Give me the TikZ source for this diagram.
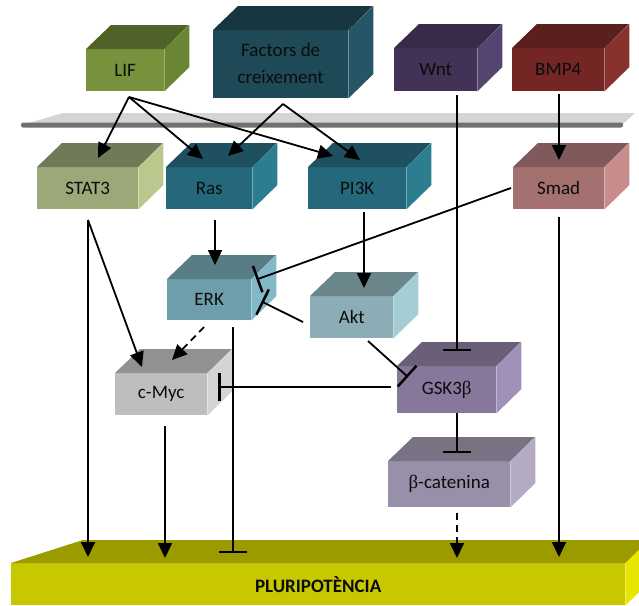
\documentclass[tikz,border=0pt]{standalone}
\usepackage{fontspec}
\setmainfont{Carlito}
\newfontfamily\grk{Liberation Serif}
\usetikzlibrary{arrows.meta,calc}
\definecolor{txt}{RGB}{12,12,12}
\definecolor{lifF}{RGB}{118,146,60}\definecolor{lifT}{RGB}{79,98,40}\definecolor{lifR}{RGB}{106,134,52}
\definecolor{facF}{RGB}{30,74,88}\definecolor{facT}{RGB}{22,54,64}\definecolor{facR}{RGB}{36,86,102}
\definecolor{wntF}{RGB}{66,50,85}\definecolor{wntT}{RGB}{56,42,72}\definecolor{wntR}{RGB}{86,68,112}
\definecolor{bmpF}{RGB}{115,38,36}\definecolor{bmpT}{RGB}{90,32,30}\definecolor{bmpR}{RGB}{136,50,48}
\definecolor{staF}{RGB}{155,168,120}\definecolor{staT}{RGB}{113,122,88}\definecolor{staR}{RGB}{185,200,140}
\definecolor{rasF}{RGB}{37,104,124}\definecolor{rasT}{RGB}{30,80,95}\definecolor{rasR}{RGB}{45,125,145}
\definecolor{smaF}{RGB}{165,112,112}\definecolor{smaT}{RGB}{128,90,90}\definecolor{smaR}{RGB}{200,140,140}
\definecolor{erkF}{RGB}{110,158,172}\definecolor{erkT}{RGB}{88,125,135}\definecolor{erkR}{RGB}{130,185,200}
\definecolor{aktF}{RGB}{140,172,182}\definecolor{aktT}{RGB}{108,135,140}\definecolor{aktR}{RGB}{165,205,212}
\definecolor{mycF}{RGB}{190,190,190}\definecolor{mycT}{RGB}{145,145,145}\definecolor{mycR}{RGB}{212,212,212}
\definecolor{gskF}{RGB}{135,120,155}\definecolor{gskT}{RGB}{105,95,120}\definecolor{gskR}{RGB}{160,145,185}
\definecolor{catF}{RGB}{152,143,168}\definecolor{catT}{RGB}{120,114,130}\definecolor{catR}{RGB}{180,170,196}
\definecolor{pluF}{RGB}{200,200,0}\definecolor{pluT}{RGB}{155,155,0}\definecolor{pluR}{RGB}{230,230,0}
\definecolor{memT}{RGB}{212,212,212}\definecolor{memF}{RGB}{112,112,112}
\tikzset{
  cubefront/.style={inner sep=0pt, text=txt, font=\fontsize{19}{27}\selectfont, align=center},
  arr/.style={line width=1.8pt, -{Triangle[length=15pt,width=14pt]}},
  inh/.style={line width=1.8pt, -{Bar[width=28pt,line width=2.5pt]}},
  dsh/.style={dash pattern=on 7pt off 5pt}
}
\newcommand\cubebox[9]{%
  \node[cubefront, fill=#6, minimum width=#4pt, minimum height=#5pt, anchor=north west] (#1) at (#2,#3) {#9};
  \fill[#7] (#1.north west) -- ++(25,-24) -- ++(#4,0) -- (#1.north east) -- cycle;
  \fill[#8] (#1.north east) -- ++(25,-24) -- ++(0,#5) -- (#1.south east) -- cycle;
}
\begin{document}
\begin{tikzpicture}[x=1pt,y=-1pt]
\useasboundingbox (0,0) rectangle (639,605);
% membrane
\fill[memT] (22,125) -- (63,113) -- (635,113) -- (623,124) -- cycle;
\fill[memF, rounded corners=2pt] (21,122.5) rectangle (623,127.5);
% boxes
\cubebox{lif}{86}{49}{78}{42}{lifF}{lifT}{lifR}{LIF}
\cubebox{fac}{213}{30}{135}{68}{facF}{facT}{facR}{\raisebox{-3pt}{\begin{tabular}{@{}c@{}}Factors de\\creixement\end{tabular}}}
\cubebox{wnt}{394}{48}{83}{43}{wntF}{wntT}{wntR}{Wnt}
\cubebox{bmp}{512}{48}{92}{43}{bmpF}{bmpT}{bmpR}{BMP4}
\cubebox{stat}{37}{167}{101}{42}{staF}{staT}{staR}{STAT3}
\cubebox{ras}{166}{167}{86}{42}{rasF}{rasT}{rasR}{Ras}
\cubebox{pik}{308}{167}{98}{42}{rasF}{rasT}{rasR}{PI3K}
\cubebox{smad}{513}{167}{91}{42}{smaF}{smaT}{smaR}{Smad}
\cubebox{erk}{167}{279}{84}{41}{erkF}{erkT}{erkR}{ERK}
\cubebox{akt}{310}{296}{83}{42}{aktF}{aktT}{aktR}{Akt}
\cubebox{myc}{115}{373}{92}{42}{mycF}{mycT}{mycR}{c-Myc}
\cubebox{gsk}{397}{366}{99}{47}{gskF}{gskT}{gskR}{GSK3{\grk β}}
\cubebox{cat}{388}{461}{122}{46}{catF}{catT}{catR}{{\grk β}-catenina}
% pluripotencia
\begin{scope}
\clip (0,0) rectangle (639,605);
\node[cubefront, fill=pluF, minimum width=614pt, minimum height=42pt, anchor=north west,
  font=\fontsize{19}{22}\selectfont\bfseries] (plu) at (11,563) {PLURIPOTÈNCIA};
\fill[pluT] (plu.north west) -- (83,540) -- (650,540) -- (plu.north east) -- cycle;
\fill[pluR] (plu.north east) -- ++(25,-24) -- ++(0,42) -- (plu.south east) -- cycle;
\end{scope}
% connector coordinates
\coordinate (lifo) at (129,97);
\coordinate (faco) at (283,104);
\coordinate (wnto) at (457,95);
\coordinate (bmpo) at (559,94);
\coordinate (stati) at (98,158);
\coordinate (rasi1) at (203,159);
\coordinate (rasi2) at (228,156);
\coordinate (piki1) at (333,156);
\coordinate (piki2) at (360,160);
\coordinate (smadi) at (559,160);
\coordinate (smado) at (511,188);
\coordinate (smadb) at (559,217);
\coordinate (rasb) at (215,220);
\coordinate (pikb) at (364,212);
\coordinate (statb) at (88,220);
\coordinate (erki) at (215,265);
\coordinate (erkr1) at (256.5,279.5);
\coordinate (erkr2) at (261.5,301.5);
\coordinate (erkb1) at (204,327);
\coordinate (erkb2) at (233,327);
\coordinate (akti) at (364,288);
\coordinate (aktl) at (303,322);
\coordinate (aktb) at (368,341);
\coordinate (myci1) at (172,360);
\coordinate (myci2) at (142,367);
\coordinate (mycr) at (218,387);
\coordinate (mycb) at (165,426);
\coordinate (gskt) at (457,351);
\coordinate (gskl) at (408,377);
\coordinate (gsko) at (391,387);
\coordinate (gskb) at (457,413);
\coordinate (catt) at (457,453);
\coordinate (catb) at (457,513);
\coordinate (plu1) at (88,557);
\coordinate (plu2) at (165,558);
\coordinate (plu3) at (233,553);
\coordinate (plu4) at (457,558);
\coordinate (plu5) at (559,557);
% connectors
\draw[arr] (lifo) -- (stati);
\draw[arr] (lifo) -- (rasi1);
\draw[arr] (lifo) -- (piki1);
\draw[arr] (faco) -- (rasi2);
\draw[arr] (faco) -- (piki2);
\draw[inh] (wnto) -- (gskt);
\draw[arr] (bmpo) -- (smadi);
\draw[inh] (smado) -- (erkr1);
\draw[arr] (rasb) -- (erki);
\draw[arr] (pikb) -- (akti);
\draw[inh] (aktl) -- (erkr2);
\draw[arr,dsh] (erkb1) -- (myci1);
\draw[arr] (statb) -- (myci2);
\draw[arr] (statb) -- (plu1);
\draw[arr] (mycb) -- (plu2);
\draw[inh] (erkb2) -- (plu3);
\draw[inh] (gsko) -- (mycr);
\draw[inh] (aktb) -- (gskl);
\draw[inh] (gskb) -- (catt);
\draw[arr,dsh] (catb) -- (plu4);
\draw[arr] (smadb) -- (plu5);
\end{tikzpicture}
\end{document}
